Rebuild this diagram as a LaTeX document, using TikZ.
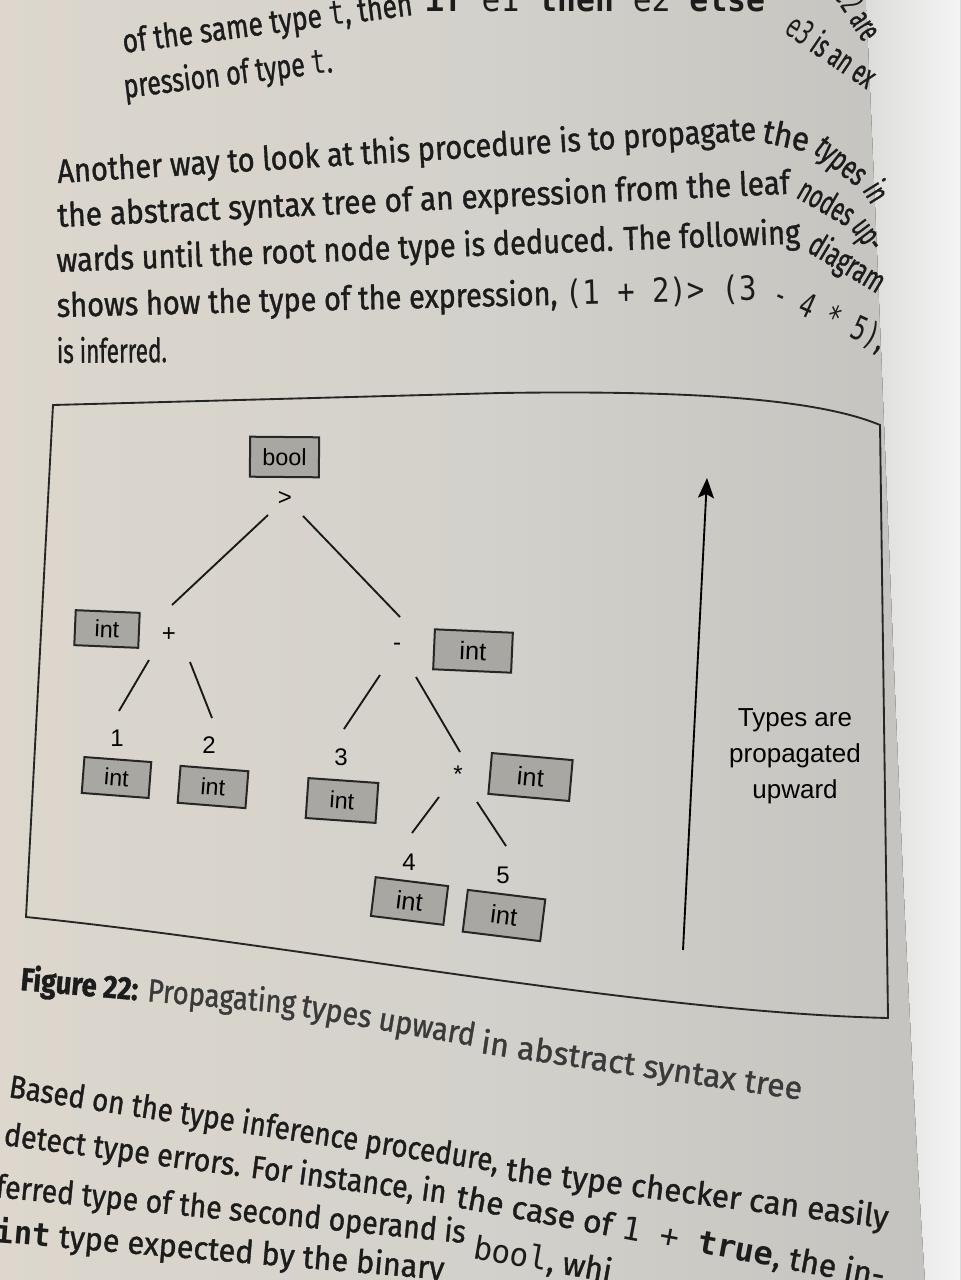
\documentclass[tikz,border=0pt]{standalone}
\usepackage{fontspec}
\usepackage{graphicx}
\setmainfont{Fira Sans}[FakeBold=1.2]
\setmonofont{DejaVu Sans Mono}
\newfontfamily\diagfont{Liberation Sans}
\usetikzlibrary{arrows.meta}
\newlength\pxu \setlength\pxu{0.75pt}
\newcommand\fitw[2]{\resizebox{#1\pxu}{\height}{#2}}
\definecolor{pageL}{HTML}{DDD7CD}
\definecolor{pageM}{HTML}{D3D1CB}
\definecolor{pageR}{HTML}{C3C2BE}
\definecolor{edgeA}{HTML}{DCDCDA}
\definecolor{edgeB}{HTML}{F4F4F4}
\definecolor{ink}{HTML}{1C1C1C}
\definecolor{capink}{HTML}{3A3A3A}
\definecolor{boxfill}{HTML}{A9A7A2}
\definecolor{boxline}{HTML}{262626}
\tikzset{
  bodyline/.style={anchor=base west, inner sep=0pt, outer sep=0pt, text=ink, font=\fontsize{25}{30}\selectfont},
  lowline/.style={bodyline, font=\fontsize{24}{28}\selectfont},
  capline/.style={bodyline, text=capink, font=\fontsize{24}{28}\selectfont},
  typebox/.style={draw=boxline, line width=1.5pt, fill=boxfill, inner sep=0pt, text=black, font=\diagfont\fontsize{17.5}{20}\selectfont},
  bigtype/.style={font=\diagfont\fontsize{19}{21}\selectfont},
  oplabel/.style={inner sep=1pt, text=black, font=\diagfont\fontsize{18}{20}\selectfont},
  treeline/.style={line width=1.4pt, draw=black!90},
  figframe/.style={line width=1.4pt, draw=black!85},
  notetext/.style={inner sep=0pt, align=center, text=black, font=\diagfont\fontsize{19.5}{27}\selectfont},
}
\begin{document}
\begin{tikzpicture}[x=0.75pt, y=-0.75pt]
\useasboundingbox (0,0) rectangle (960,1280);
\clip (0,0) rectangle (960,1280);
% page
\fill[left color=pageL, right color=pageR, middle color=pageM] (0,0) rectangle (960,1280);
\fill[left color=edgeA, right color=edgeB] (866,0) .. controls (885,400) and (900,900) .. (925,1280) -- (960,1280) -- (960,0) -- cycle;

% body text above the figure
\node[bodyline, rotate=7.5] (l1a) at (124,53) {\fitw{292}{of the same type \texttt{t}, then}};
\node[bodyline] (l1b) at (425,12) {\fitw{340}{\texttt{\textbf{if} e1 \textbf{then} e2 \textbf{else}}}};
\node[bodyline, rotate=-34] (l1c) at (783,33) {\fitw{101}{\texttt{e3} is an ex}};
\node[bodyline, rotate=-57] (l1d) at (833,-4) {\fitw{56}{\texttt{e2} are}};
\node[bodyline, rotate=7.1] (l2) at (125,98) {\fitw{210}{pression of type \texttt{t}.}};
\node[bodyline, rotate=3.5] (l3a) at (58,183) {\fitw{700}{Another way to look at this procedure is to propagate}};
\node[bodyline, rotate=-12] (l3b) at (761,142) {\fitw{47}{the}};
\node[bodyline, rotate=-38] (l3c) at (812,152) {\fitw{57}{types}};
\node[bodyline, rotate=-58] (l3d) at (862,190) {\fitw{18}{in}};
\node[bodyline, rotate=2.6] (l4a) at (58,227) {\fitw{733}{the abstract syntax tree of an expression from the leaf}};
\node[bodyline, rotate=-30] (l4b) at (795,197) {\fitw{60}{nodes}};
\node[bodyline, rotate=-53] (l4c) at (850,228) {\fitw{32}{up-}};
\node[bodyline, rotate=2.2] (l5a) at (57,272) {\fitw{744}{wards until the root node type is deduced. The following}};
\node[bodyline, rotate=-31] (l5b) at (806,251) {\fitw{83}{diagram}};
\node[bodyline, rotate=1.4] (l6a) at (57,317) {\fitw{700}{shows how the type of the expression, \texttt{(1 + 2)> (3}}};
\node[bodyline, rotate=-24] (l6b) at (770,302) {\fitw{120}{\texttt{- 4 * 5)},}};
\node[bodyline, rotate=0.5] (l7) at (57,363) {\fitw{110}{is inferred.}};

% figure frame
\draw[figframe] (53,405) -- (500,393) .. controls (700,390) and (820,400) .. (880,425)
  -- (888,1018) .. controls (640,1012) and (300,945) .. (26,917) -- cycle;

% tree
\node[typebox, minimum width=69\pxu, minimum height=40\pxu, rotate=-0.5] (tgt) at (284.5,457) {bool};
\node[oplabel] (gt) at (285,498) {>};
\node[oplabel] (plus) at (169,635) {+};
\node[oplabel] (minus) at (397,647) {-};
\node[oplabel] (times) at (458,774) {*};
\node[oplabel] (n1) at (117,738) {1};
\node[oplabel] (n2) at (209,745) {2};
\node[oplabel] (n3) at (341,757) {3};
\node[oplabel] (n4) at (409,862) {4};
\node[oplabel] (n5) at (503,875) {5};
\node[typebox, minimum width=64\pxu, minimum height=35\pxu, rotate=-2.4] (tplus) at (107,629) {int};
\node[typebox, bigtype, minimum width=78\pxu, minimum height=40\pxu, rotate=-2.5] (tminus) at (473,651) {int};
\node[typebox, minimum width=67\pxu, minimum height=36\pxu, rotate=-4.3] (t1) at (116.5,777.5) {int};
\node[typebox, minimum width=68\pxu, minimum height=37\pxu, rotate=-4.5] (t2) at (213,787) {int};
\node[typebox, minimum width=70\pxu, minimum height=40\pxu, rotate=-4] (t3) at (342,800.5) {int};
\node[typebox, bigtype, minimum width=81\pxu, minimum height=41\pxu, rotate=-5] (ttimes) at (530.5,777) {int};
\node[typebox, bigtype, minimum width=73\pxu, minimum height=39\pxu, rotate=-7] (t4) at (409.5,901) {int};
\node[typebox, bigtype, minimum width=78\pxu, minimum height=42\pxu, rotate=-7] (t5) at (504,915.5) {int};

\draw[treeline] ([shift={(-17,17)}]gt.center) -- ([shift={(3,-30)}]plus.center);
\draw[treeline] ([shift={(18,18)}]gt.center) -- ([shift={(3,-30)}]minus.center);
\draw[treeline] ([shift={(-20,25)}]plus.center) -- ([shift={(2,-27)}]n1.center);
\draw[treeline] ([shift={(21,27)}]plus.center) -- ([shift={(3,-27)}]n2.center);
\draw[treeline] ([shift={(-17,28)}]minus.center) -- ([shift={(3,-28)}]n3.center);
\draw[treeline] ([shift={(19,30)}]minus.center) -- ([shift={(2,-22)}]times.center);
\draw[treeline] ([shift={(-19,23)}]times.center) -- ([shift={(3,-29)}]n4.center);
\draw[treeline] ([shift={(19,28)}]times.center) -- ([shift={(3,-29)}]n5.center);

% arrow and note
\coordinate (arrowfoot) at (683,950);
\coordinate (arrowtip) at (707,478);
\draw[line width=1.4pt, -{Stealth[length=15pt, width=12pt, inset=3pt]}] (arrowfoot) -- (arrowtip);
\node[notetext] (note) at (795,756) {Types are\\propagated\\upward};

% caption
\node[capline, rotate=-5] (c1) at (20,990) {\fitw{276}{\textcolor{ink}{\textbf{Figure 22:}} Propagating}};
\node[capline, rotate=-9.8] (c2) at (300,1016) {\fitw{176}{types upward}};
\node[capline, rotate=-8.3] (c3) at (480,1053) {\fitw{324}{in abstract syntax tree}};

% body text below
\node[lowline, rotate=-8.7] (b1a) at (8,1097) {\fitw{495}{Based on the type inference procedure,}};
\node[lowline, rotate=-7.2] (b1b) at (505,1180) {\fitw{385}{the type checker can easily}};
\node[lowline, rotate=-7.5] (b2a) at (3,1145) {\fitw{446}{detect type errors. For instance, in}};
\node[lowline, rotate=-10.6] (b2b) at (455,1207) {\fitw{435}{the case of \texttt{1 + \textbf{true}}, the in-}};
\node[lowline, rotate=-5.6] (b3a) at (-5,1197) {\fitw{472}{ferred type of the second operand is}};
\node[lowline, rotate=-10] (b3b) at (472,1258) {\fitw{140}{\texttt{bool}, whi}};
\node[lowline, rotate=-4.8] (b4) at (-5,1242) {\fitw{450}{\texttt{\textbf{int}} type expected by the binary}};
\end{tikzpicture}
\end{document}
